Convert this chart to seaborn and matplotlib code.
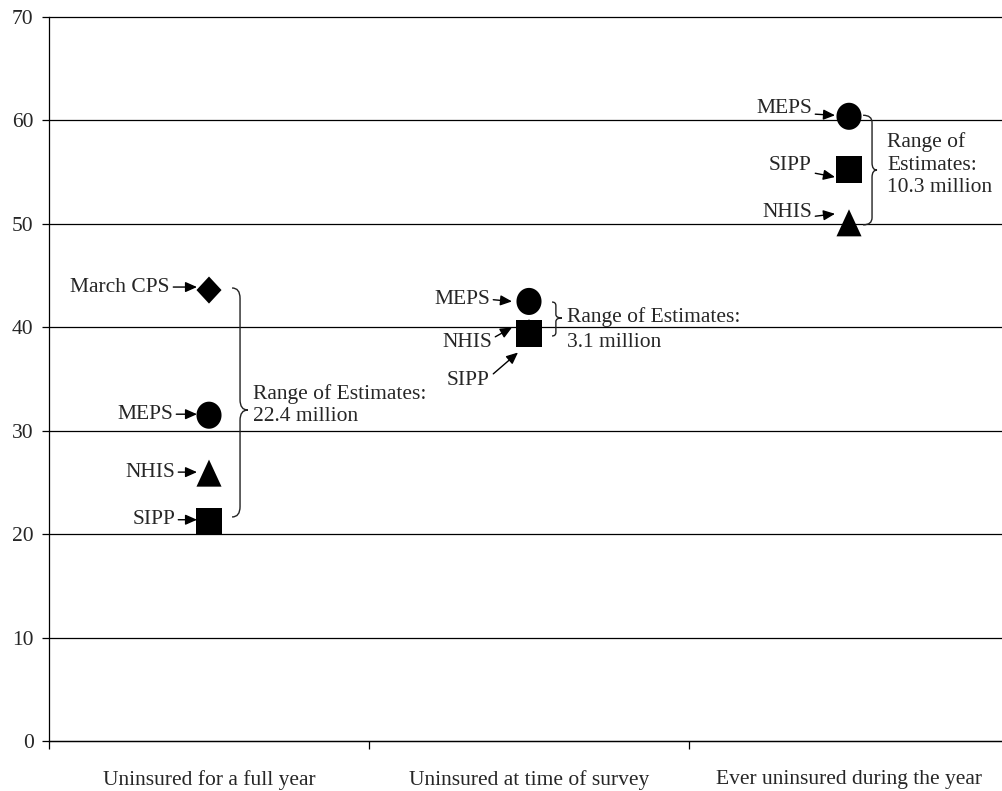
import numpy as np
import pandas as pd
import matplotlib
matplotlib.use("Agg")
import matplotlib.pyplot as plt
from matplotlib.path import Path
from matplotlib.patches import PathPatch
from matplotlib.transforms import offset_copy
import seaborn as sns

# data (millions of uninsured)
measures = ["Uninsured for a full year", "Uninsured at time of survey",
            "Ever uninsured during the year"]
full_year_surveys = ["March CPS", "MEPS", "NHIS", "SIPP"]
full_year_values = [43.6, 31.5, 25.9, 21.2]
survey_time_surveys = ["MEPS", "NHIS", "SIPP"]
survey_time_values = [42.5, 39.5, 39.4]
ever_surveys = ["MEPS", "SIPP", "NHIS"]
ever_values = [60.4, 55.3, 50.1]
range_labels = ["Range of Estimates:\n22.4 million",
                "Range of Estimates:\n3.1 million",
                "Range of\nEstimates:\n10.3 million"]

rows = []
for m, surveys, values in zip(measures,
                              [full_year_surveys, survey_time_surveys, ever_surveys],
                              [full_year_values, survey_time_values, ever_values]):
    for s, v in zip(surveys, values):
        rows.append({"measure": m, "survey": s, "millions": v})
df = pd.DataFrame(rows)

FS = 15.5
sns.set_style("ticks")
plt.rcParams['font.family'] = ['Liberation Serif', 'DejaVu Serif']
plt.rcParams['font.size'] = FS

# slightly taller than wide markers, like the original
a = 25 / 27
t = np.linspace(0, 2 * np.pi, 60)
circle = list(zip(a * np.cos(t), np.sin(t)))
square = [(-a, -1), (a, -1), (a, 1), (-a, 1), (-a, -1)]
triangle = [(0, 1), (-a, -1), (a, -1), (0, 1)]
diamond = [(0, 1), (a, 0), (0, -1), (-a, 0), (0, 1)]
marker_map = {"March CPS": diamond, "MEPS": circle, "NHIS": triangle, "SIPP": square}

fig = plt.figure(figsize=(10.02, 7.91), dpi=100)
ax = fig.add_axes([49 / 1002, 50 / 791, 960 / 1002, 724 / 791])

sns.scatterplot(data=df, x="measure", y="millions", style="survey",
                markers=marker_map, s=380, color="black", edgecolor="black",
                linewidth=0, legend=False, ax=ax, zorder=3)

ax.set_xlim(-0.5, 2.5)
ax.set_ylim(0, 70)
ax.set_yticks(range(0, 71, 10))
ax.yaxis.grid(True, color="black", lw=0.9)
for g in ax.get_ygridlines():
    g.set_clip_on(False)
ax.set_xticks([-0.5, 0.5, 1.5, 2.5])
ax.set_xticklabels([])
ax.set_xticks([0, 1, 2], minor=True)
ax.set_xticklabels(measures, minor=True)
ax.tick_params(axis="x", which="major", length=6, width=0.9, color="black")
ax.tick_params(axis="x", which="minor", length=0, pad=21, labelsize=FS)
ax.tick_params(axis="y", length=5, width=0.9, pad=6, labelsize=FS, color="black")
ax.set_xlabel("")
ax.set_ylabel("")
sns.despine(ax=ax, top=True, right=True)
ax.spines["left"].set_color("black")
ax.spines["bottom"].set_color("black")
ax.spines["left"].set_linewidth(0.9)
ax.spines["bottom"].set_linewidth(0.9)

# label arrows: tip offset (px) from marker, text offset (px) from tip, arrow start on text
arrow_layout = {
    (0, "March CPS"): (-12, 3, -27, 0, (1, 0.5)),
    (0, "MEPS"): (-12, 1, -24, 0, (1, 0.5)),
    (0, "NHIS"): (-12, 1, -22, 0, (1, 0.5)),
    (0, "SIPP"): (-12, 2, -22, 0, (1, 0.5)),
    (1, "MEPS"): (-17, 0, -22, 2, (1, 0.5)),
    (1, "NHIS"): (-17, 5, -20, -15, (1, 0.7)),
    (1, "SIPP"): (-11, -19, -28, -28, (1, 0.7)),
    (2, "MEPS"): (-14, 1, -23, 7, (1, 0.2)),
    (2, "SIPP"): (-14, -8, -23, 12, (1, 0.1)),
    (2, "NHIS"): (-14, 9, -23, 1, (1, 0.3)),
}
for i, (surveys, values) in enumerate(zip([full_year_surveys, survey_time_surveys, ever_surveys],
                                          [full_year_values, survey_time_values, ever_values])):
    for s, v in zip(surveys, values):
        dx, dy, tx, ty, rp = arrow_layout[(i, s)]
        tip = offset_copy(ax.transData, fig=fig, x=dx, y=dy, units="dots")
        ax.annotate(s, xy=(i, v), xycoords=tip, xytext=(tx, ty),
                    textcoords="offset pixels", ha="right", va="center", fontsize=FS,
                    arrowprops=dict(arrowstyle="-|>,head_length=0.45,head_width=0.2",
                                    color="black", lw=1.0, shrinkA=0, shrinkB=0,
                                    relpos=rp), zorder=4)


def draw_brace(ax, x_end, x_bar, x_tip, y_lo, y_hi, y_tip, r):
    verts = [(x_end, y_hi), (x_bar, y_hi), (x_bar, y_hi - r),
             (x_bar, y_tip + r), (x_bar, y_tip), (x_tip, y_tip),
             (x_bar, y_tip), (x_bar, y_tip - r),
             (x_bar, y_lo + r), (x_bar, y_lo), (x_end, y_lo)]
    codes = [Path.MOVETO, Path.CURVE3, Path.CURVE3, Path.LINETO, Path.CURVE3, Path.CURVE3,
             Path.CURVE3, Path.CURVE3, Path.LINETO, Path.CURVE3, Path.CURVE3]
    ax.add_patch(PathPatch(Path(verts, codes), fill=False, edgecolor="#222222", lw=1.0,
                           zorder=4))


braces = [(0.072, 0.097, 0.121, 21.66, 43.8, 32.0, 1.0),
          (0.072, 0.084, 0.103, 39.16, 42.44, 40.9, 0.35),
          (0.044, 0.072, 0.0875, 49.9, 60.5, 55.2, 0.7)]
range_text_pos = [(0.138, 32.5, 1.2), (0.119, 39.8, 1.45), (0.119, 55.7, 1.25)]
for i, (b, (tx, ty, ls), lab) in enumerate(zip(braces, range_text_pos, range_labels)):
    x_end, x_bar, x_tip, y_lo, y_hi, y_tip, r = b
    draw_brace(ax, i + x_end, i + x_bar, i + x_tip, y_lo, y_hi, y_tip, r)
    ax.text(i + tx, ty, lab, ha="left", va="center", fontsize=FS, linespacing=ls, zorder=4)

fig.savefig("out.png", dpi=100)
